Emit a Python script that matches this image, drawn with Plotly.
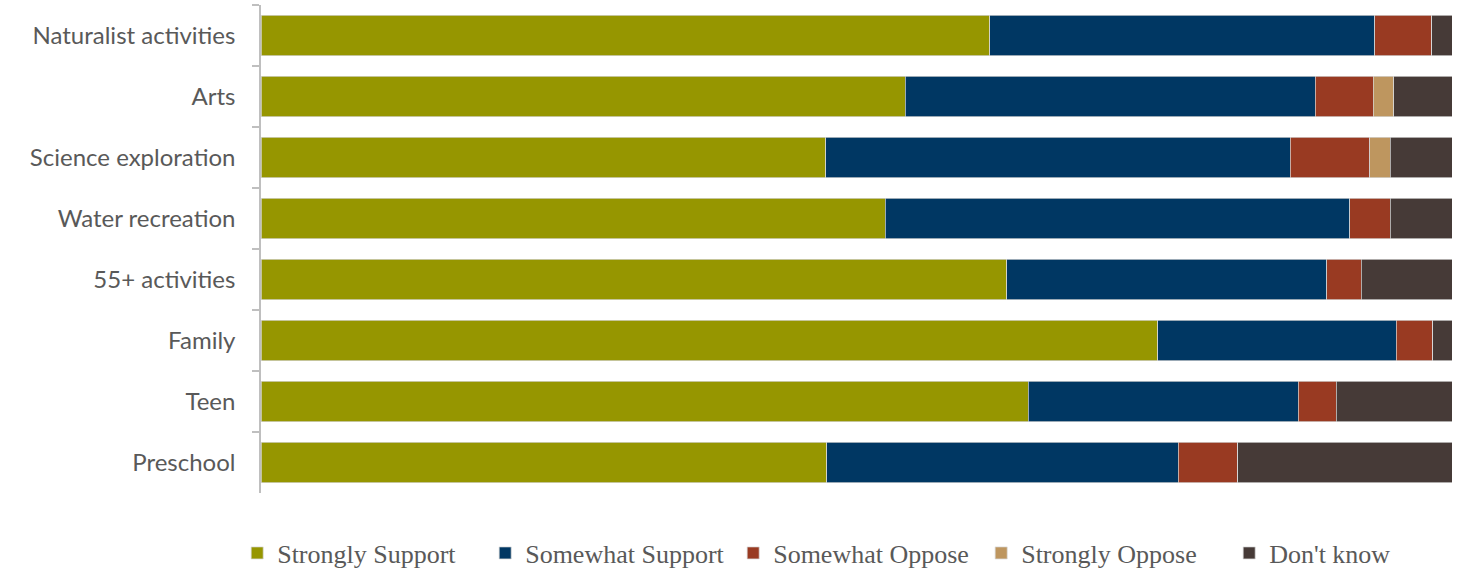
import plotly.graph_objects as go

# Programs, listed top to bottom
programs = ["Naturalist activities", "Arts", "Science exploration", "Water recreation",
            "55+ activities", "Family", "Teen", "Preschool"]

# Share of respondents (%) per response
strongly_support = [61.2, 54.1, 47.4, 52.4, 62.6, 75.3, 64.4, 47.5]
somewhat_support = [32.3, 34.4, 39.0, 39.0, 26.9, 20.0, 22.7, 29.5]
somewhat_oppose = [4.8, 4.9, 6.7, 3.4, 2.9, 3.1, 3.2, 5.0]
strongly_oppose = [0.0, 1.7, 1.7, 0.0, 0.0, 0.0, 0.0, 0.0]
dont_know = [1.7, 5.0, 5.2, 5.2, 7.6, 1.6, 9.7, 18.1]

series = [
    ("Strongly Support", strongly_support, "#969600"),
    ("Somewhat Support", somewhat_support, "#003763"),
    ("Somewhat Oppose", somewhat_oppose, "#993A22"),
    ("Strongly Oppose", strongly_oppose, "#BE965F"),
    ("Don't know", dont_know, "#463A37"),
]

fig = go.Figure()
for name, vals, color in series:
    fig.add_trace(go.Bar(
        y=programs, x=vals, name=name, orientation="h",
        marker=dict(color=color, line=dict(color="rgba(215,215,215,0.9)", width=0.8)),
        hoverinfo="x+y+name",
    ))

fig.update_layout(
    barmode="stack",
    bargap=0.33,
    width=1473, height=571,
    margin=dict(l=261, r=21, t=5, b=78, autoexpand=False),
    plot_bgcolor="white", paper_bgcolor="white",
    font=dict(family="Lato", size=24, color="#595959"),
    legend=dict(
        orientation="h", xref="paper", x=-0.020, xanchor="left",
        yref="paper", y=-0.123, yanchor="middle",
        font=dict(family="Liberation Serif", size=26, color="#595959"),
        traceorder="normal", entrywidth=203, entrywidthmode="pixels",
        itemclick=False,
    ),
    showlegend=True,
)
fig.update_xaxes(range=[0, 100], showgrid=False, showticklabels=False, zeroline=False,
                 showline=False, ticks="")
fig.update_yaxes(autorange="reversed", showline=True, linecolor="#BFBFBF", linewidth=1.5,
                 ticks="outside", tickson="boundaries", ticklen=7, tickcolor="#BFBFBF",
                 tickwidth=1.5, ticklabelstandoff=19, showgrid=False)

fig.write_html("out.html")
